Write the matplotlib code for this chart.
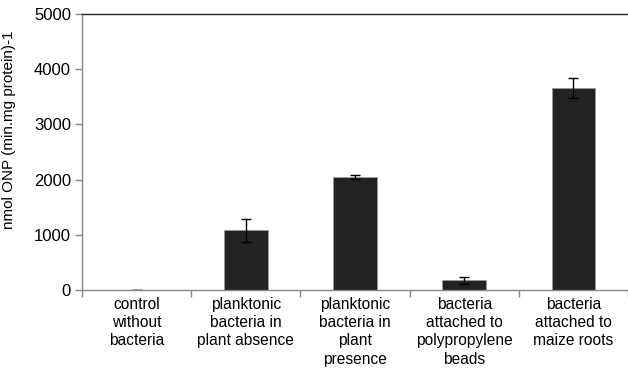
import numpy as np
import matplotlib.pyplot as plt
from matplotlib.ticker import FixedLocator

plt.rcParams['font.family'] = ['Liberation Sans', 'DejaVu Sans']

# Activity per condition (mean and error)
categories = ['control\nwithout\nbacteria',
              'planktonic\nbacteria in\nplant absence',
              'planktonic\nbacteria in\nplant\npresence',
              'bacteria\nattached to\npolypropylene\nbeads',
              'bacteria\nattached to\nmaize roots']
activity = [0, 1080, 2045, 175, 3660]
errors = [0, 205, 40, 65, 175]

fig = plt.figure(figsize=(6.28, 3.73), dpi=100)
ax = fig.add_axes([0.1306, 0.2225, 0.8694, 0.74])

x = np.arange(len(categories))
ax.bar(x, activity, width=0.4, color='#222222', edgecolor='#9a9a9a', linewidth=0.6,
       yerr=errors, capsize=3.5, error_kw=dict(ecolor='black', elinewidth=1.0, capthick=1.0))

ax.set_xlim(-0.5, 4.5)
ax.set_ylim(0, 5000)
ax.set_yticks([0, 1000, 2000, 3000, 4000, 5000])
ax.set_xticks(x)
ax.set_xticklabels(categories, fontsize=11.2, linespacing=1.27, va='top')
ax.xaxis.set_minor_locator(FixedLocator(np.arange(-0.5, 5, 1.0)))
ax.tick_params(axis='x', which='major', length=0, pad=5)
ax.tick_params(axis='x', which='minor', length=5, color='#888888', width=1.0)
ax.tick_params(axis='y', length=5, color='#888888', width=1.0, labelsize=12, pad=3)

ax.spines['right'].set_visible(False)
ax.spines['left'].set_color('#888888')
ax.spines['bottom'].set_color('#888888')
ax.spines['top'].set_color('#222222')
for s in ax.spines.values():
    s.set_linewidth(1.0)

ax.set_ylabel('nmol ONP (min.mg protein)-1', fontsize=11)
ax.yaxis.set_label_coords(-0.121, 0.58)

fig.savefig('out.png', dpi=100)
